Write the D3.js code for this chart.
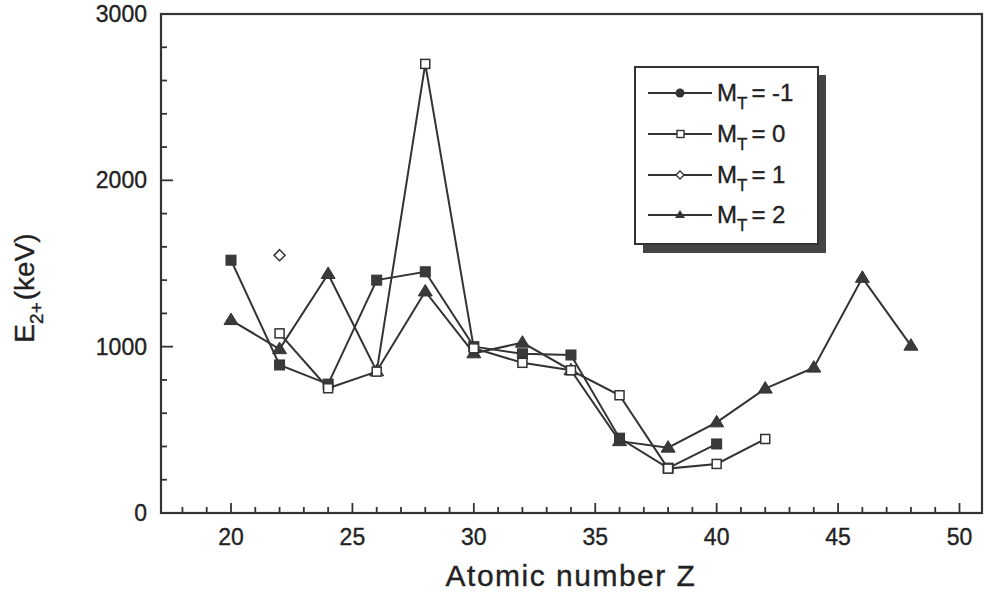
<!DOCTYPE html>
<html><head><meta charset="utf-8">
<script src="https://cdn.jsdelivr.net/npm/d3@7"></script>
<style>body{margin:0;background:#fff}svg{display:block}text{font-family:"Liberation Sans",Arial,sans-serif;fill:#222;stroke:#222;stroke-width:0.35px}</style>
</head><body>
<svg id="c" width="984" height="595"></svg>
<script>
// Data
const zMinus1 = [20,22,24,26,28,30,32,34,36,38,40];
const eMinus1 = [1520,890,775,1400,1450,1000,957,950,450,270,415];
const zZero = [22,24,26,28,30,32,34,36,38,40,42];
const eZero = [1080,750,850,2700,990,903,858,708,267,295,445];
const zOne = [22];
const eOne = [1550];
const zTwo = [20,22,24,26,28,30,32,34,36,38,40,42,44,46,48];
const eTwo = [1160,985,1437,852,1332,960,1024,858,432,393,545,748,874,1414,1006];
const xTicks = [20,25,30,35,40,45,50];
const yTicks = [0,1000,2000,3000];
const legendLabels = ["-1","0","1","2"];

const svg = d3.select("#c");
const L=161, R=982, T=14, B=513;
const x = d3.scaleLinear().domain([20,50]).range([231,959.5]);
const y = d3.scaleLinear().domain([0,3000]).range([B,T]);
const ink = "#333";

// frame
svg.append("rect").attr("x",L).attr("y",T).attr("width",R-L).attr("height",B-T)
  .attr("fill","none").attr("stroke",ink).attr("stroke-width",2.2);

// x ticks (inward)
const xMinor = d3.range(18,51,1);
svg.append("g").selectAll("line").data(xMinor).join("line")
  .attr("x1",d=>x(d)).attr("x2",d=>x(d)).attr("y1",B).attr("y2",d=>d%5===0?B-10:B-6)
  .attr("stroke",ink).attr("stroke-width",1.8);
svg.append("g").selectAll("text").data(xTicks).join("text")
  .attr("x",d=>x(d)).attr("y",545).attr("text-anchor","middle").attr("font-size",23).text(d=>d);

// y ticks (inward)
const yMinor = d3.range(200,3000,200);
svg.append("g").selectAll("line").data(yMinor).join("line")
  .attr("x1",L).attr("x2",d=>d%1000===0?L+12:L+6).attr("y1",d=>y(d)).attr("y2",d=>y(d))
  .attr("stroke",ink).attr("stroke-width",1.8);
svg.append("g").selectAll("text").data(yTicks).join("text")
  .attr("x",147).attr("y",d=>y(d)+8).attr("text-anchor","end").attr("font-size",23).text(d=>d);

// axis titles
svg.append("text").attr("x",571).attr("y",586).attr("text-anchor","middle").attr("font-size",30)
  .attr("letter-spacing",1.5).text("Atomic number Z");
const yt = svg.append("text").attr("transform","translate(34,288) rotate(-90)").attr("text-anchor","middle").attr("font-size",28);
yt.append("tspan").text("E");
yt.append("tspan").attr("font-size",19).attr("dy",9).text("2+");
yt.append("tspan").attr("dy",-9).attr("dx",2).text("(keV)");

// markers
function marker(g, type, cx, cy){
  if(type==="fsq") g.append("rect").attr("x",cx-5).attr("y",cy-5).attr("width",10).attr("height",10).attr("fill","#3a3a3a").attr("stroke","#333").attr("stroke-width",1);
  else if(type==="osq") g.append("rect").attr("x",cx-4.5).attr("y",cy-4.5).attr("width",9).attr("height",9).attr("fill","#fff").attr("stroke","#333").attr("stroke-width",1.5);
  else if(type==="odia") g.append("path").attr("d",`M${cx},${cy-5.5}L${cx+5.5},${cy}L${cx},${cy+5.5}L${cx-5.5},${cy}Z`).attr("fill","#fff").attr("stroke","#333").attr("stroke-width",1.5);
  else if(type==="ftri") g.append("path").attr("d",`M${cx},${cy-7}L${cx+7},${cy+4.5}L${cx-7},${cy+4.5}Z`).attr("fill","#3a3a3a").attr("stroke","#333").attr("stroke-width",1);
}
const line = d3.line().x(d=>x(d[0])).y(d=>y(d[1]));
const series = [
  {z:zTwo,e:eTwo,m:"ftri"},
  {z:zMinus1,e:eMinus1,m:"fsq"},
  {z:zZero,e:eZero,m:"osq"},
  {z:zOne,e:eOne,m:"odia"}
];
series.forEach(s=>{
  const pts = s.z.map((z,i)=>[z,s.e[i]]);
  svg.append("path").datum(pts).attr("d",line).attr("fill","none").attr("stroke",ink).attr("stroke-width",2);
});
series.forEach(s=>{
  const g = svg.append("g");
  s.z.forEach((z,i)=>marker(g,s.m,x(z),y(s.e[i])));
});

// legend
const lg = svg.append("g");
lg.append("rect").attr("x",643).attr("y",75).attr("width",183).attr("height",178).attr("fill","#444");
lg.append("rect").attr("x",635).attr("y",67).attr("width",183).attr("height",177).attr("fill","#fff").attr("stroke",ink).attr("stroke-width",2);
const legendMarks = ["fcirc","osq","odia","ftri"];
const rowsY = [93,134,175,215];
legendLabels.forEach((lab,i)=>{
  const yy = rowsY[i];
  lg.append("line").attr("x1",648).attr("x2",712).attr("y1",yy).attr("y2",yy).attr("stroke",ink).attr("stroke-width",1.8);
  const mk = legendMarks[i];
  if(mk==="osq"){lg.append("rect").attr("x",677).attr("y",yy-3.5).attr("width",7).attr("height",7).attr("fill","#fff").attr("stroke","#333").attr("stroke-width",1.4);}
  else if(mk==="odia"){lg.append("path").attr("d",`M680,${yy-4}L684,${yy}L680,${yy+4}L676,${yy}Z`).attr("fill","#fff").attr("stroke","#333").attr("stroke-width",1.4);}
  else if(mk==="ftri"){lg.append("path").attr("d",`M680,${yy-5}L685,${yy+3}L675,${yy+3}Z`).attr("fill","#333");}
  else lg.append("circle").attr("cx",680).attr("cy",yy).attr("r",4.5).attr("fill","#333");
  const t = lg.append("text").attr("x",717).attr("y",yy+8).attr("font-size",24);
  t.append("tspan").text("M");
  t.append("tspan").attr("font-size",17).attr("dy",8).text("T");
  t.append("tspan").attr("dy",-8).attr("dx",4).text("= "+lab);
});
</script>
</body></html>
